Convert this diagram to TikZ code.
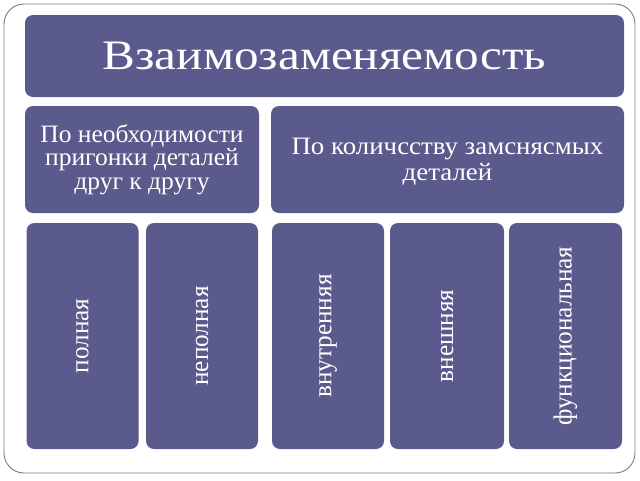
\documentclass[tikz,border=0pt]{standalone}
\usepackage{fontspec}
\setmainfont{Liberation Serif}
\newfontfamily\titlefam[FakeStretch=1.17]{Liberation Serif}
\newfontfamily\leftfam[FakeStretch=1.02]{Liberation Serif}
\newfontfamily\rightfam[FakeStretch=1.075]{Liberation Serif}
\newfontfamily\vertfam[FakeStretch=0.97]{Liberation Serif}
\definecolor{boxc}{HTML}{5A5A8C}
\definecolor{framec}{HTML}{7A7A7A}
\tikzset{
  cell/.style={fill=boxc, rounded corners=8pt, text=white, align=center, inner sep=0pt},
  txt/.style={text=white, align=center, inner sep=0pt},
  frame/.style={draw=framec, line width=0.9pt, rounded corners=20pt},
  titlefont/.style={font=\titlefam\fontsize{42}{46}\selectfont},
  leftfont/.style={font=\leftfam\fontsize{25}{23.3}\selectfont},
  rightfont/.style={font=\rightfam\fontsize{25}{26}\selectfont},
  vfont/.style={font=\vertfam\fontsize{26}{28}\selectfont, rotate=90}
}
\begin{document}
\begin{tikzpicture}[x=1pt,y=-1pt]
\useasboundingbox (0,0) rectangle (640,480);
\draw[frame] (4,4) rectangle (635,473);
\node[cell, titlefont, minimum width=599pt, minimum height=82pt] (title) at (324.5,56) {Взаимозаменяемость};
\node[cell, leftfont, minimum width=234pt, minimum height=107pt] (fit) at (142,159.5) {По необходимости\\пригонки деталей\\друг к другу};
\node[cell, minimum width=353pt, minimum height=107pt] (count) at (447.5,159.5) {};
\node[txt, rightfont] (countText) at (447.5,161.5) {По количсству замснясмых\\деталей};
\node[cell, vfont, minimum width=226pt, minimum height=112pt] (full) at (82.5,336) {полная};
\node[cell, vfont, minimum width=226pt, minimum height=112pt] (partial) at (202,336) {неполная};
\node[cell, vfont, minimum width=226pt, minimum height=112pt] (inner) at (328,336) {внутренняя};
\node[cell, vfont, minimum width=226pt, minimum height=114pt] (outer) at (447,336) {внешняя};
\node[cell, vfont, minimum width=226pt, minimum height=113pt] (func) at (565.5,336) {функциональная};
\end{tikzpicture}
\end{document}
